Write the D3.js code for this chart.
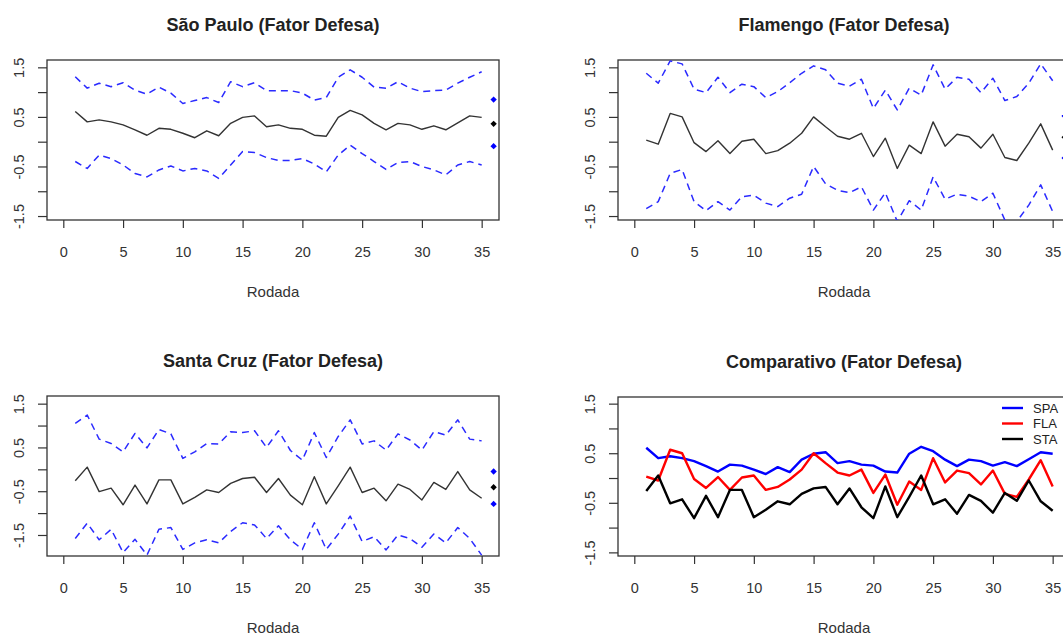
<!DOCTYPE html>
<html>
<head>
<meta charset="utf-8">
<script src="https://cdn.jsdelivr.net/npm/d3@7"></script>
<style>
  body { margin: 0; background: #fff; }
  svg { display: block; font-family: "Liberation Sans", Arial, sans-serif; }
</style>
</head>
<body>
<svg id="chart" width="1063" height="635"></svg>
<script>
// rodadas 1..35
const rodadas = [1,2,3,4,5,6,7,8,9,10,11,12,13,14,15,16,17,18,19,20,21,22,23,24,25,26,27,28,29,30,31,32,33,34,35];
const xTicks = [0, 5, 10, 15, 20, 25, 30, 35];
const yTicks = [-1.5, -1, -0.5, 0, 0.5, 1, 1.5];
const yTickLabels = ["-1.5", "", "-0.5", "", "0.5", "", "1.5"];

// São Paulo
const spaMedia = [0.61,0.40,0.44,0.40,0.34,0.24,0.13,0.27,0.25,0.17,0.08,0.22,0.12,0.37,0.49,0.52,0.30,0.34,0.27,0.25,0.13,0.11,0.49,0.63,0.54,0.37,0.24,0.37,0.34,0.25,0.32,0.24,0.38,0.52,0.49];
const spaSup = [1.31,1.08,1.18,1.11,1.19,1.04,0.96,1.10,0.98,0.77,0.83,0.89,0.79,1.21,1.11,1.19,1.03,1.03,1.03,0.98,0.84,0.89,1.30,1.45,1.30,1.10,1.08,1.21,1.08,1.01,1.03,1.04,1.18,1.30,1.41];
const spaInf = [-0.40,-0.54,-0.27,-0.34,-0.47,-0.64,-0.71,-0.57,-0.49,-0.59,-0.54,-0.59,-0.74,-0.47,-0.20,-0.22,-0.32,-0.38,-0.38,-0.34,-0.45,-0.61,-0.27,-0.07,-0.24,-0.40,-0.56,-0.42,-0.40,-0.50,-0.57,-0.67,-0.47,-0.40,-0.47];
const spaResumo = [0.85, 0.36, -0.09];

// Flamengo
const flaMedia = [0.03,-0.05,0.57,0.50,-0.02,-0.20,0.02,-0.24,0.01,0.05,-0.24,-0.18,-0.03,0.17,0.50,0.30,0.11,0.05,0.17,-0.30,0.07,-0.54,-0.07,-0.24,0.40,-0.09,0.15,0.10,-0.13,0.15,-0.32,-0.38,-0.03,0.36,-0.17];
const flaSup = [1.38,1.18,1.63,1.57,1.06,0.99,1.30,0.99,1.16,1.11,0.89,1.01,1.19,1.38,1.53,1.45,1.18,1.12,1.26,0.67,1.04,0.64,1.08,0.94,1.55,1.06,1.30,1.26,0.99,1.28,0.83,0.91,1.18,1.57,1.23];
const flaInf = [-1.35,-1.21,-0.64,-0.56,-1.21,-1.39,-1.21,-1.38,-1.11,-1.08,-1.24,-1.31,-1.14,-1.06,-0.50,-0.85,-0.98,-1.03,-0.91,-1.38,-1.03,-1.61,-1.19,-1.38,-0.71,-1.16,-1.06,-1.10,-1.21,-1.04,-1.58,-1.61,-1.28,-0.87,-1.41];
const flaResumo = [0.52, 0.09, -0.33];

// Santa Cruz
const staMedia = [-0.26,0.05,-0.51,-0.43,-0.81,-0.36,-0.79,-0.24,-0.24,-0.79,-0.64,-0.47,-0.53,-0.32,-0.21,-0.18,-0.53,-0.21,-0.59,-0.81,-0.17,-0.79,-0.38,0.05,-0.53,-0.43,-0.72,-0.34,-0.46,-0.70,-0.30,-0.46,-0.05,-0.47,-0.66];
const staSup = [1.05,1.24,0.69,0.59,0.40,0.82,0.49,0.91,0.81,0.25,0.40,0.59,0.58,0.86,0.84,0.88,0.50,0.88,0.43,0.21,0.84,0.27,0.75,1.13,0.58,0.65,0.44,0.81,0.67,0.44,0.86,0.78,1.13,0.69,0.65];
const staInf = [-1.58,-1.23,-1.61,-1.37,-1.90,-1.60,-1.96,-1.37,-1.33,-1.83,-1.68,-1.61,-1.68,-1.42,-1.22,-1.27,-1.58,-1.29,-1.61,-1.83,-1.22,-1.83,-1.48,-1.07,-1.65,-1.54,-1.84,-1.50,-1.58,-1.78,-1.48,-1.68,-1.33,-1.58,-1.96];
const staResumo = [-0.05, -0.41, -0.79];

const resumoX = 36;
const legendLabels = ["SPA", "FLA", "STA"];
const legendColors = ["#0000ff", "#ff0000", "#000000"];

const svg = d3.select("#chart");
const textColor = "#222";
const fontFam = "'Liberation Sans', Arial, sans-serif";

// draw frame, axes, title, labels for one panel; returns scales + group
function makePanel(id, box, yDomain, title) {
  const x = d3.scaleLinear().domain([-1.364, 36.45]).range([box.left, box.right]);
  const y = d3.scaleLinear().domain(yDomain).range([box.bottom, box.top]);

  const g = svg.append("g");

  g.append("clipPath").attr("id", "clip-" + id)
    .append("rect")
    .attr("x", box.left).attr("y", box.top)
    .attr("width", box.right - box.left).attr("height", box.bottom - box.top);

  // x axis
  const xa = g.append("g")
    .attr("transform", `translate(0,${box.bottom})`)
    .call(d3.axisBottom(x).tickValues(xTicks).tickSize(8).tickPadding(19));
  xa.select(".domain").remove();
  xa.selectAll("line").attr("stroke", "#333").attr("stroke-width", 1.2);
  xa.selectAll("text").style("font-size", "14.5px").attr("fill", "#333")
    .style("font-family", fontFam);

  // y axis
  const ya = g.append("g")
    .attr("transform", `translate(${box.left},0)`)
    .call(d3.axisLeft(y).tickValues(yTicks).tickSize(9)
      .tickFormat((d, i) => yTickLabels[i]));
  ya.select(".domain").remove();
  ya.selectAll("line").attr("stroke", "#333").attr("stroke-width", 1.2);
  ya.selectAll("text")
    .attr("x", 0).attr("dy", "0.35em")
    .attr("transform", "translate(-28,0) rotate(-90)")
    .style("text-anchor", "middle")
    .style("font-size", "14.5px").attr("fill", "#333")
    .style("font-family", fontFam);

  // box
  g.append("rect")
    .attr("x", box.left).attr("y", box.top)
    .attr("width", box.right - box.left).attr("height", box.bottom - box.top)
    .attr("fill", "none").attr("stroke", "#333").attr("stroke-width", 1.3);

  const cx = (box.left + box.right) / 2;
  g.append("text")
    .attr("x", cx).attr("y", box.top - 29.5)
    .attr("text-anchor", "middle")
    .style("font-size", "18px").style("font-weight", "bold")
    .attr("fill", textColor)
    .text(title);

  g.append("text")
    .attr("x", cx).attr("y", box.bottom + 77)
    .attr("text-anchor", "middle")
    .style("font-size", "15px")
    .attr("fill", "#333")
    .text("Rodada");

  const plot = g.append("g").attr("clip-path", `url(#clip-${id})`);
  return { x, y, g, plot };
}

function drawLine(p, values, color, width, dash) {
  const line = d3.line().x((d, i) => p.x(rodadas[i])).y(d => p.y(d));
  p.plot.append("path")
    .datum(values)
    .attr("d", line)
    .attr("fill", "none")
    .attr("stroke", color)
    .attr("stroke-width", width)
    .attr("stroke-linejoin", "round")
    .attr("stroke-dasharray", dash || null);
}

function drawResumo(p, vals) {
  const cols = ["#0000ff", "#000000", "#0000ff"];
  p.g.selectAll(null)
    .data(vals)
    .enter()
    .append("path")
    .attr("d", d3.symbol().type(d3.symbolSquare).size(20))
    .attr("transform", d => `translate(${p.x(resumoX)},${p.y(d)}) rotate(45)`)
    .attr("fill", (d, i) => cols[i]);
}

function bandPanel(id, box, yDomain, title, media, sup, inf, resumo) {
  const p = makePanel(id, box, yDomain, title);
  drawLine(p, sup, "#2a2aff", 1.5, "7,5");
  drawLine(p, inf, "#2a2aff", 1.5, "7,5");
  drawLine(p, media, "#333", 1.4);
  drawResumo(p, resumo);
}

bandPanel("spa", { left: 47, right: 499, top: 60, bottom: 220 }, [-1.58, 1.648],
  "São Paulo (Fator Defesa)", spaMedia, spaSup, spaInf, spaResumo);
bandPanel("fla", { left: 618, right: 1070, top: 60, bottom: 220 }, [-1.58, 1.648],
  "Flamengo (Fator Defesa)", flaMedia, flaSup, flaInf, flaResumo);
bandPanel("sta", { left: 47, right: 499, top: 396, bottom: 556 }, [-1.98, 1.675],
  "Santa Cruz (Fator Defesa)", staMedia, staSup, staInf, staResumo);

// comparativo
const pc = makePanel("cmp", { left: 618, right: 1070, top: 397, bottom: 556 }, [-1.573, 1.634],
  "Comparativo (Fator Defesa)");
[spaMedia, flaMedia, staMedia].forEach((s, i) => drawLine(pc, s, legendColors[i], 2.4));

const leg = pc.g.append("g");
legendLabels.forEach((lab, i) => {
  const ly = 408 + i * 15.5;
  leg.append("line")
    .attr("x1", 1002).attr("x2", 1023).attr("y1", ly).attr("y2", ly)
    .attr("stroke", legendColors[i]).attr("stroke-width", 2.4);
  leg.append("text")
    .attr("x", 1033).attr("y", ly).attr("dy", "0.35em")
    .style("font-size", "13px").attr("fill", "#222")
    .text(lab);
});
</script>
</body>
</html>
